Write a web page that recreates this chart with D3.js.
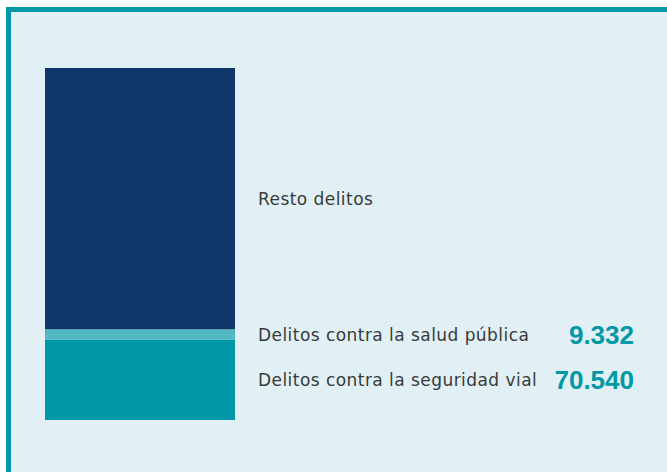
<!DOCTYPE html>
<html>
<head>
<meta charset="utf-8">
<script src="https://cdn.jsdelivr.net/npm/d3@7"></script>
<style>
  html, body { margin: 0; padding: 0; background: #ffffff; }
  svg { display: block; }
</style>
</head>
<body>
<svg id="chart"></svg>
<script>
// data, bottom to top of the stack
const categories = ["Delitos contra la seguridad vial", "Delitos contra la salud pública", "Resto delitos"];
const values = [70540, 9332, 230100];   // "Resto delitos" has no printed value
const valueLabels = ["70.540", "9.332", ""];
const colors = ["#0098a6", "#52b8c3", "#10366a"];

let width = 667;
let height = 472;
let barLeft = 45;
let barWidth = 190;
let barTop = 68;
let barBottom = 420;
let labelX = 258;
let numberX = 634;

const svg = d3.select("#chart")
  .attr("width", width)
  .attr("height", height);

// panel with thick teal frame, running off the right and bottom edges
svg.append("rect")
  .attr("x", 8.5)
  .attr("y", 9.5)
  .attr("width", 700)
  .attr("height", 500)
  .attr("fill", "#e0f0f4")
  .attr("stroke", "#0097a7")
  .attr("stroke-width", 5);

let stack = [];
let acc = 0;
values.forEach((v, i) => {
  stack.push({ name: categories[i], label: valueLabels[i], color: colors[i], y0: acc, y1: acc + v });
  acc += v;
});

const yScale = d3.scaleLinear()
  .domain([0, d3.sum(values)])
  .range([barBottom, barTop]);

svg.selectAll("rect.seg")
  .data(stack)
  .enter()
  .append("rect")
  .attr("class", "seg")
  .attr("x", barLeft)
  .attr("width", barWidth)
  .attr("y", (d) => yScale(d.y1))
  .attr("height", (d) => yScale(d.y0) - yScale(d.y1))
  .attr("fill", (d) => d.color);

svg.selectAll("text.cat")
  .data(stack)
  .enter()
  .append("text")
  .attr("class", "cat")
  .attr("x", labelX)
  .attr("y", (d) => (yScale(d.y0) + yScale(d.y1)) / 2)
  .attr("dy", "0.36em")
  .attr("font-family", "'DejaVu Sans', sans-serif")
  .attr("font-size", 17)
  .attr("letter-spacing", 0.45)
  .attr("fill", "#3a3a3a")
  .text((d) => d.name);

svg.selectAll("text.num")
  .data(stack.filter((d) => d.label))
  .enter()
  .append("text")
  .attr("class", "num")
  .attr("x", numberX)
  .attr("y", (d) => (yScale(d.y0) + yScale(d.y1)) / 2)
  .attr("dy", "0.36em")
  .attr("text-anchor", "end")
  .attr("font-family", "'Liberation Sans', Arial, sans-serif")
  .attr("font-weight", "bold")
  .attr("font-size", 26)
  .attr("fill", "#0097a7")
  .text((d) => d.label);
</script>
</body>
</html>
